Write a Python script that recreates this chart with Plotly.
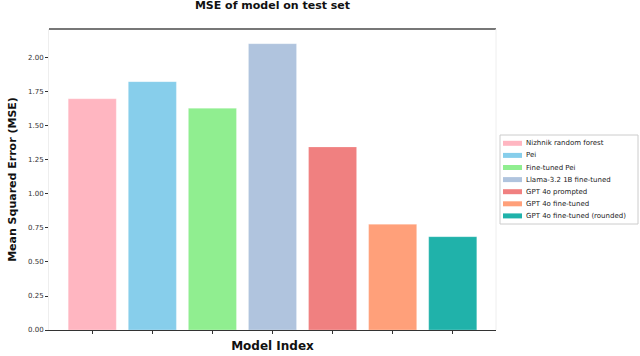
import plotly.graph_objects as go

models = ["Nizhnik random forest", "Pei", "Fine-tuned Pei", "Llama-3.2 1B fine-tuned",
          "GPT 4o prompted", "GPT 4o fine-tuned", "GPT 4o fine-tuned (rounded)"]
mse = [1.70, 1.826, 1.63, 2.105, 1.346, 0.777, 0.686]
colors = ["#FFB6C1", "#87CEEB", "#90EE90", "#B0C4DE", "#F08080", "#FFA07A", "#20B2AA"]
y_ticks = [0.0, 0.25, 0.5, 0.75, 1.0, 1.25, 1.5, 1.75, 2.0]

W, H = 640, 356
L, T = 49, 29
R, B = W - 496, H - 330
pw, ph = W - L - R, H - T - B

fig = go.Figure()
for i, (name, val, col) in enumerate(zip(models, mse, colors)):
    fig.add_trace(go.Bar(
        x=[i], y=[val], name=name, width=0.8, showlegend=False,
        marker=dict(color=col, line=dict(color="rgba(255,255,255,0.4)", width=0.6)),
    ))

font = "DejaVu Sans"
fig.update_layout(
    width=W, height=H,
    margin=dict(l=L, r=R, t=T, b=B, autoexpand=False),
    paper_bgcolor="white", plot_bgcolor="white",
    font=dict(family=font, color="#222"),
    title=dict(text="<b>MSE of model on test set</b>", x=(L + pw / 2) / W, xanchor="center",
               y=1 - 1.5 / H, yanchor="top", pad=dict(t=0), font=dict(size=11, color="#111")),
)
fig.update_xaxes(
    range=[-0.72, 6.72], tickmode="array", tickvals=list(range(len(models))),
    ticktext=[""] * len(models), ticks="outside", ticklen=3, tickcolor="#333",
    showgrid=False, zeroline=False, showline=True, linecolor="#333", linewidth=1.2,
    automargin=False,
    title=dict(text="<b>Model Index</b>", font=dict(size=12, color="#111"), standoff=6),
)
fig.update_yaxes(
    range=[0, 2.213], tickmode="array", tickvals=y_ticks,
    ticktext=[f"{v:.2f}" for v in y_ticks], tickfont=dict(size=7, color="#333"),
    ticks="outside", ticklen=3, tickcolor="#333",
    showgrid=False, zeroline=False, showline=True, linecolor="#eeeeee", linewidth=1,
    automargin=False,
    title=dict(text="<b>Mean Squared Error (MSE)</b>", font=dict(size=11, color="#111"), standoff=9),
)
# top spine (dark) and right spine (light)
fig.add_shape(type="line", xref="paper", yref="paper", x0=0, x1=1, y0=1, y1=1,
              layer="above", line=dict(color="#777", width=2))
fig.add_shape(type="line", xref="paper", yref="paper", x0=1, x1=1, y0=0, y1=1,
              layer="above", line=dict(color="#eeeeee", width=1))

# compact legend drawn by hand (plotly's minimum row height is too tall)
def px_x(p):
    return (p - L) / pw

def px_y(p):
    return (H - B - p) / ph

box_l, box_r, box_t, box_b = 500, 638, 135, 224
fig.add_shape(type="rect", xref="paper", yref="paper",
              x0=px_x(box_l), x1=px_x(box_r), y0=px_y(box_b), y1=px_y(box_t),
              line=dict(color="#cccccc", width=1), fillcolor="white")
row0, step = 143.3, 12.1
for i, (name, col) in enumerate(zip(models, colors)):
    cy = row0 + i * step
    fig.add_shape(type="rect", xref="paper", yref="paper",
                  x0=px_x(503), x1=px_x(522), y0=px_y(cy + 2.5), y1=px_y(cy - 2.5),
                  line=dict(width=0), fillcolor=col)
    fig.add_annotation(xref="paper", yref="paper", x=px_x(524), y=px_y(cy),
                       xanchor="left", yanchor="middle", showarrow=False,
                       text=name, font=dict(size=7, color="#222"))

# drop the default 8px body margin so the figure fills the window
fig.write_html("out.html", config={"displayModeBar": False},
               post_script="document.body.style.margin='0';")
